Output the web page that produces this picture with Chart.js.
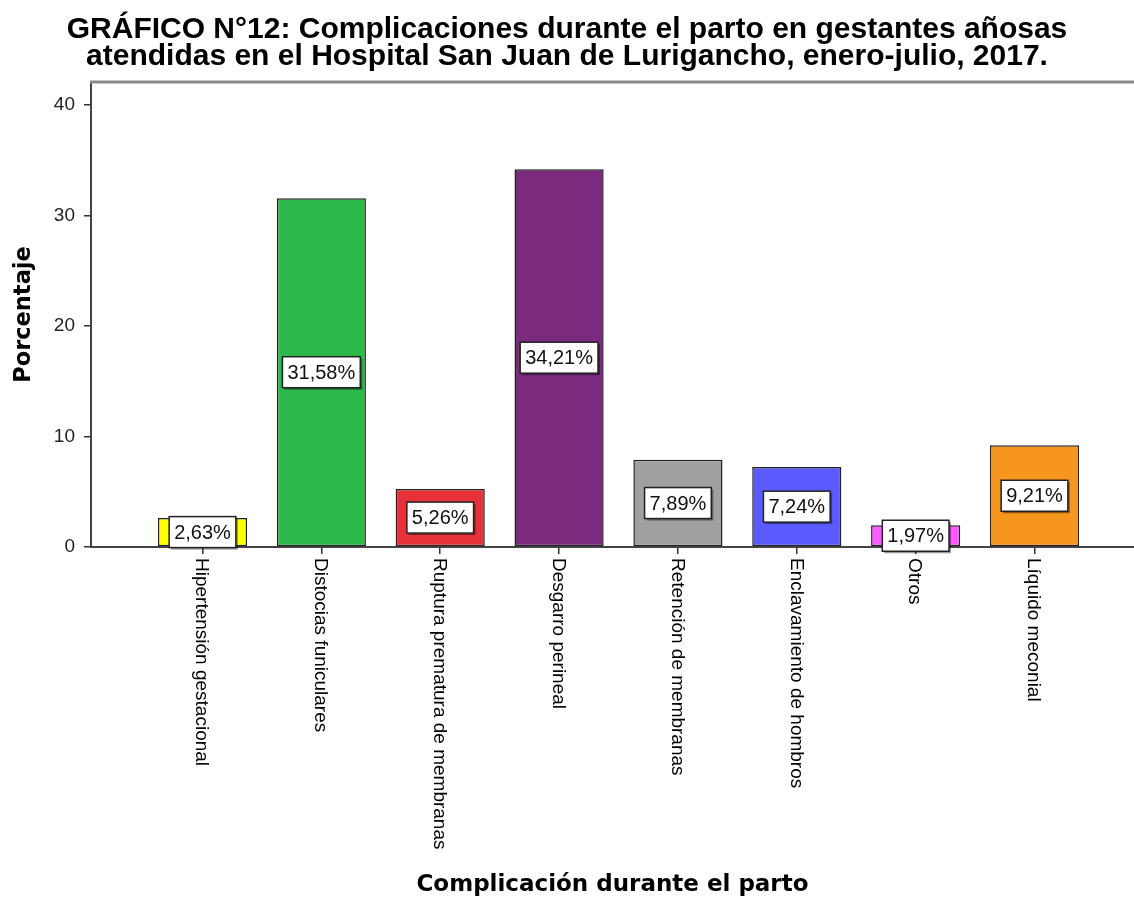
<!DOCTYPE html>
<html>
<head>
<meta charset="utf-8">
<title>Gráfico 12</title>
<script src="https://cdn.jsdelivr.net/npm/chart.js@4.4.0/dist/chart.umd.min.js"></script>
<style>
  body { margin: 0; background: #fff; }
  #caja { width: 1134px; height: 899px; }
</style>
</head>
<body>
<div id="caja"><canvas id="myChart"></canvas></div>
<script>
var categorias = ['Hipertensión gestacional', 'Distocias funiculares', 'Ruptura prematura de membranas',
  'Desgarro perineal', 'Retención de membranas', 'Enclavamiento de hombros', 'Otros', 'Líquido meconial'];
var porcentajes = [2.63, 31.58, 5.26, 34.21, 7.89, 7.24, 1.97, 9.21];
var colores = ['#FFFF00', '#2DB84A', '#E8323A', '#7B2A7E', '#A0A0A0', '#5A5AFF', '#FF5AFF', '#F7961E'];
var ticksY = [0, 10, 20, 30, 40];

var fuente = "'Liberation Sans', Arial, sans-serif";
var fuenteEjes = "'DejaVu Sans', Verdana, sans-serif";

// posiciones de las barras en el eje x (1..8)
var puntos = [];
for (var i = 0; i < porcentajes.length; i++) {
  puntos.push({ x: i + 1, y: porcentajes[i] });
}

// linea gris de arriba del area del grafico
var bordeSuperior = {
  id: 'bordeSuperior',
  beforeDatasetsDraw: function (chart) {
    var ctx = chart.ctx, a = chart.chartArea;
    ctx.save();
    ctx.strokeStyle = '#8a8a8a';
    ctx.lineWidth = 3;
    ctx.beginPath();
    ctx.moveTo(a.left - 1, a.top);
    ctx.lineTo(a.right, a.top);
    ctx.stroke();
    ctx.restore();
  }
};

// etiquetas del eje x giradas (leen de arriba hacia abajo)
var etiquetasX = {
  id: 'etiquetasX',
  afterDraw: function (chart) {
    var ctx = chart.ctx, xs = chart.scales.x;
    ctx.save();
    ctx.font = '19px ' + fuente;
    ctx.fillStyle = '#000';
    ctx.textAlign = 'left';
    ctx.textBaseline = 'middle';
    for (var i = 0; i < categorias.length; i++) {
      ctx.save();
      ctx.translate(xs.getPixelForValue(i + 1) - 1, chart.chartArea.bottom + 11);
      ctx.rotate(Math.PI / 2);
      ctx.fillText(categorias[i], 0, 0);
      ctx.restore();
    }
    ctx.restore();
  }
};

// cajas con el porcentaje en medio de cada barra
var cajasValor = {
  id: 'cajasValor',
  afterDatasetsDraw: function (chart) {
    var ctx = chart.ctx;
    var meta = chart.getDatasetMeta(0);
    ctx.save();
    ctx.font = '20px ' + fuente;
    ctx.textAlign = 'center';
    ctx.textBaseline = 'middle';
    meta.data.forEach(function (barra, i) {
      var texto = porcentajes[i].toFixed(2).replace('.', ',') + '%';
      var w = ctx.measureText(texto).width + 10;
      var h = 31;
      var cx = barra.x;
      var cy = (barra.y + barra.base) / 2;
      ctx.fillStyle = 'rgba(0,0,0,0.4)';
      ctx.fillRect(cx - w / 2 + 2, cy - h / 2 + 2, w, h);
      ctx.fillStyle = '#fff';
      ctx.fillRect(cx - w / 2, cy - h / 2, w, h);
      ctx.strokeStyle = '#222';
      ctx.lineWidth = 1.5;
      ctx.strokeRect(cx - w / 2, cy - h / 2, w, h);
      ctx.fillStyle = '#111';
      ctx.fillText(texto, cx, cy + 1);
    });
    ctx.restore();
  }
};

new Chart(document.getElementById('myChart'), {
  type: 'bar',
  data: {
    datasets: [{
      label: 'Porcentaje',
      data: puntos,
      backgroundColor: colores,
      borderColor: '#222',
      borderWidth: 1.5,
      borderSkipped: false,
      categoryPercentage: 1,
      barPercentage: 0.75
    }]
  },
  options: {
    responsive: true,
    maintainAspectRatio: false,
    animation: false,
    layout: { padding: { top: 0, right: 0, bottom: 0, left: 0 } },
    plugins: {
      legend: { display: false },
      tooltip: { enabled: false },
      title: {
        display: true,
        text: ['GRÁFICO N°12: Complicaciones durante el parto en gestantes añosas',
          'atendidas en el Hospital San Juan de Lurigancho, enero-julio, 2017.'],
        color: '#000',
        font: { family: fuente, size: 30, weight: 'bold', lineHeight: 0.9 },
        padding: { top: 16.5, bottom: 11.5 }
      }
    },
    scales: {
      x: {
        type: 'linear',
        offset: false,
        min: 0.062,
        max: 8.837,
        afterBuildTicks: function (scale) {
          scale.ticks = puntos.map(function (p) { return { value: p.x }; });
        },
        afterFit: function (scale) { scale.height = 352; },
        ticks: { display: false },
        grid: { display: true, offset: false, drawOnChartArea: false, drawTicks: true, tickLength: 7, color: '#333', lineWidth: 1.5 },
        border: { display: true, color: '#444', width: 2 },
        title: {
          display: true,
          text: 'Complicación durante el parto',
          color: '#000',
          font: { family: fuenteEjes, size: 23, weight: 'bold', lineHeight: 1.2 },
          padding: { top: 320, bottom: 0 }
        }
      },
      y: {
        min: 0,
        max: 42.1,
        afterBuildTicks: function (scale) {
          scale.ticks = ticksY.map(function (v) { return { value: v }; });
        },
        afterFit: function (scale) { scale.width = 91; },
        ticks: { color: '#222', padding: 9, font: { family: fuente, size: 19 } },
        grid: { display: true, drawOnChartArea: false, drawTicks: true, tickLength: 7, color: '#333', lineWidth: 1.5 },
        border: { display: true, color: '#444', width: 2 },
        title: {
          display: true,
          text: 'Porcentaje',
          color: '#000',
          font: { family: fuenteEjes, size: 22.5, weight: 'bold', lineHeight: 1.2 },
          padding: { top: 11, bottom: 0 }
        }
      }
    }
  },
  plugins: [bordeSuperior, cajasValor, etiquetasX]
});
</script>
</body>
</html>
